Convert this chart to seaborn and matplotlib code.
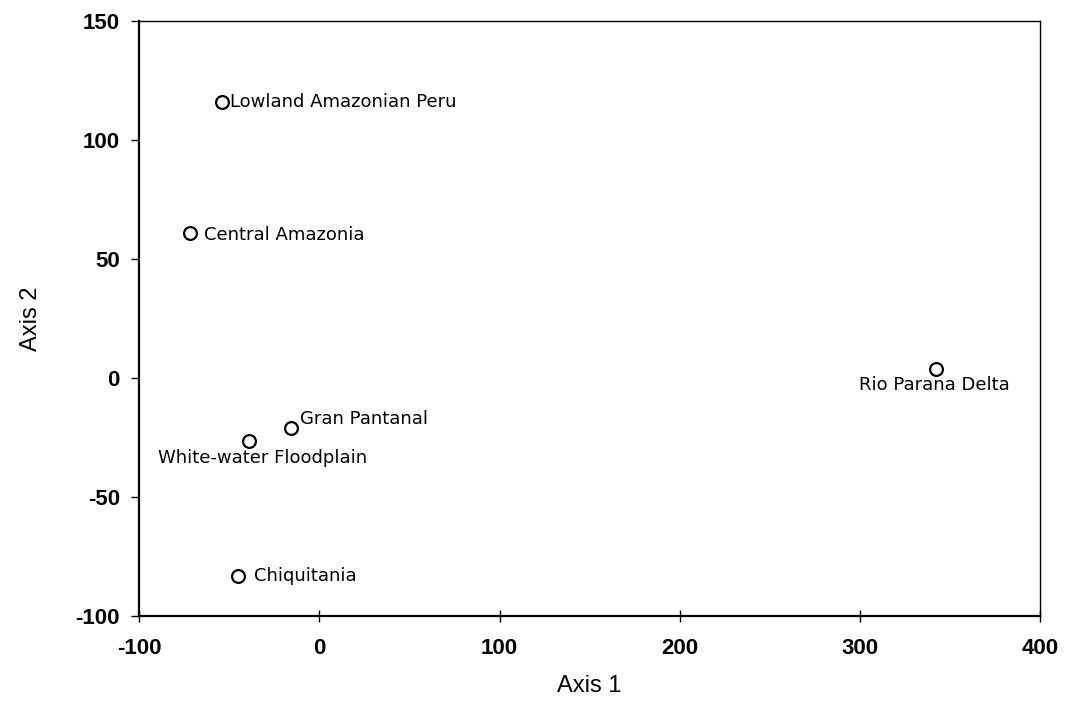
import matplotlib
matplotlib.use("Agg")
import matplotlib.pyplot as plt
import seaborn as sns
import pandas as pd

sites = ["Lowland Amazonian Peru", "Central Amazonia", "Gran Pantanal",
         "White-water Floodplain", "Chiquitania", "Rio Parana Delta"]
axis1 = [-54, -72, -16, -39, -45, 342]
axis2 = [116, 61, -21, -26.5, -83, 4]
x_ticks = [-100, 0, 100, 200, 300, 400]
y_ticks = [-100, -50, 0, 50, 100, 150]

df = pd.DataFrame({"site": sites, "Axis 1": axis1, "Axis 2": axis2})

sns.set_style("white")
plt.rcParams['font.family'] = ['Liberation Sans', 'DejaVu Sans']
plt.rcParams['axes.unicode_minus'] = False
for k in ["text.color", "axes.labelcolor", "xtick.color", "ytick.color"]:
    plt.rcParams[k] = "black"

fig = plt.figure(figsize=(10.88, 7.14), dpi=100)
ax = fig.add_axes([0.128, 0.137, 0.828, 0.833])

sns.scatterplot(data=df, x="Axis 1", y="Axis 2", ax=ax, s=85,
                facecolor="white", edgecolor="black", linewidth=1.6, marker="o")

# label placement (offsets in points)
offsets = {
    "Lowland Amazonian Peru": (6, 0, "left", "center"),
    "Central Amazonia": (10, -1, "left", "center"),
    "Gran Pantanal": (7, 7, "left", "center"),
    "White-water Floodplain": (10, -12, "center", "center"),
    "Chiquitania": (11, 0, "left", "center"),
    "Rio Parana Delta": (-1, -12, "center", "center"),
}
for name, xv, yv in zip(sites, axis1, axis2):
    dx, dy, ha, va = offsets[name]
    ax.annotate(name, (xv, yv), xytext=(dx, dy), textcoords="offset points",
                ha=ha, va=va, fontsize=13, family=['DejaVu Sans'], color="black")

ax.set_xlim(-100, 400)
ax.set_ylim(-100, 150)
ax.set_xticks(x_ticks)
ax.set_yticks(y_ticks)
ax.tick_params(axis="x", direction="inout", length=9, width=1, color="black",
               labelsize=16, pad=11, bottom=True, labelcolor="black")
ax.tick_params(axis="y", direction="out", length=6, width=1, color="black",
               labelsize=16, pad=8, left=True, labelcolor="black")
for lab in ax.get_xticklabels() + ax.get_yticklabels():
    lab.set_fontweight("bold")
for s in ["left", "bottom"]:
    ax.spines[s].set_color("black")
    ax.spines[s].set_linewidth(1.6)
for s in ["top", "right"]:
    ax.spines[s].set_color("black")
    ax.spines[s].set_linewidth(1.0)
ax.set_xlabel("Axis 1", fontsize=17, labelpad=12, color="black")
ax.set_ylabel("Axis 2", fontsize=17, labelpad=24, color="black")

fig.savefig("out.png", dpi=100)
